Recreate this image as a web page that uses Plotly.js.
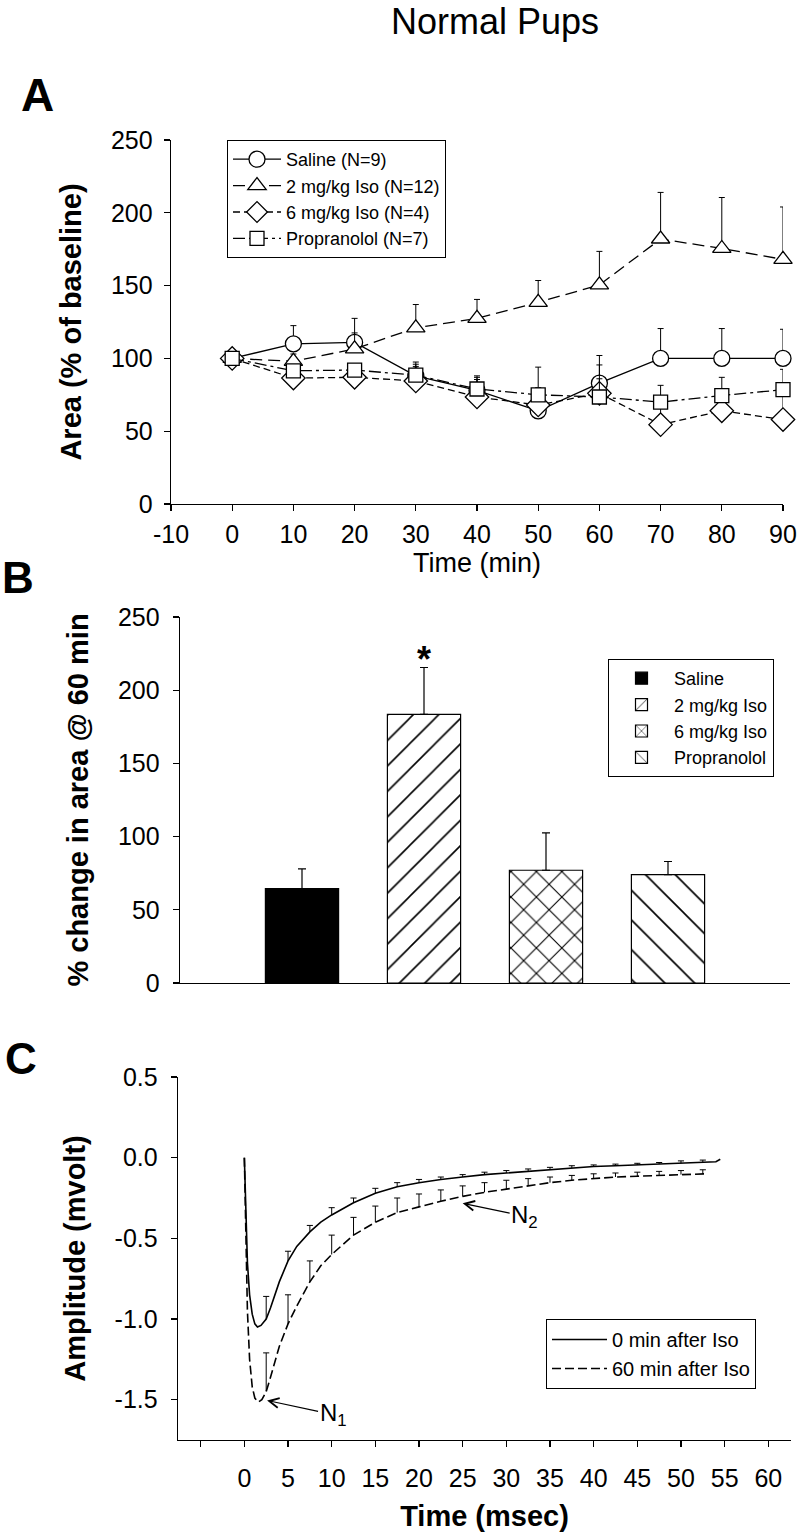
<!DOCTYPE html>
<html><head><meta charset="utf-8">
<script src="https://cdn.plot.ly/plotly-3.0.1.min.js"></script>
<style>html,body{margin:0;padding:0;background:#fff}#chart{width:800px;height:1532px}</style>
</head><body><div id="chart"></div>
<script>
// ---------- Panel A data ----------
const timeMin = [0, 10, 20, 30, 40, 50, 60, 70, 80, 90];
const salineA = [100, 110, 111, 88, 78, 64, 83, 100, 100, 100];
const salineAErr = [0, 12.5, 16.5, 8, 9, 30, 19, 20.5, 20.5, 20];
const iso2A = [100, 98, 106.5, 121, 127.5, 138.5, 150.5, 182, 175.5, 168];
const iso2AErr = [0, 5, 11, 16, 13, 15, 23, 32, 35, 36];
const iso6A = [100, 86.5, 87, 84.5, 73.5, 68, 76, 54.5, 64, 58];
const iso6AErr = [0, 3, 5, 10, 12, 10, 10, 15, 10, 20];
const propA = [100, 91.5, 92, 88.5, 79, 75, 73.5, 70, 74.5, 78.5];
const propAErr = [0, 3, 4, 9, 9, 5, 22, 11.5, 12.5, 14];
const namesA = ['Saline (N=9)', '2 mg/kg Iso (N=12)', '6 mg/kg Iso (N=4)', 'Propranolol (N=7)'];
const xTickValsA = [-10, 0, 10, 20, 30, 40, 50, 60, 70, 80, 90];
const xTickTextA = ['-10', '0', '10', '20', '30', '40', '50', '60', '70', '80', '90'];

// ---------- Panel B data ----------
const groupsB = ['Saline', '2 mg/kg Iso', '6 mg/kg Iso', 'Propranolol'];
const meanB = [64.5, 183.5, 77, 74];
const errB = [13.5, 32, 25.5, 9];

// ---------- Panel C data ----------
const tC = [0, 0.15, 0.35, 0.6, 0.9, 1.2, 1.5, 1.9, 2.5, 3, 3.5, 4, 5, 6, 7.5, 8.75, 10, 12.5, 15, 17.5,
            20, 22.5, 25, 27.5, 30, 32.5, 35, 37.5, 40, 42.5, 45, 47.5, 50, 52.5, 54, 54.5];
const amp0 = [0, -0.35, -0.65, -0.85, -0.97, -1.03, -1.05, -1.04, -1.0, -0.93, -0.85, -0.77, -0.64, -0.55, -0.46, -0.40,
              -0.355, -0.28, -0.22, -0.18, -0.155, -0.135, -0.12, -0.105, -0.095, -0.085, -0.075, -0.065, -0.055,
              -0.05, -0.045, -0.04, -0.035, -0.03, -0.025, -0.01];
const tC60 = [0, 0.15, 0.35, 0.6, 0.9, 1.2, 1.6, 2.0, 2.5, 3, 3.5, 4, 5, 6, 7.5, 8.75, 10, 12.5, 15, 17.5,
              20, 22.5, 25, 27.5, 30, 32.5, 35, 37.5, 40, 42.5, 45, 47.5, 50, 52.5, 53];
const amp60 = [0, -0.45, -0.95, -1.25, -1.42, -1.49, -1.515, -1.50, -1.45, -1.36, -1.26, -1.17, -1.03, -0.92, -0.77, -0.67,
               -0.60, -0.48, -0.40, -0.34, -0.305, -0.27, -0.24, -0.215, -0.195, -0.175, -0.155, -0.14, -0.13,
               -0.12, -0.115, -0.11, -0.105, -0.10, -0.10];
const errT = [2.5, 5, 7.5, 10, 12.5, 15, 17.5, 20, 22.5, 25, 27.5, 30, 32.5, 35, 37.5, 40, 42.5, 45, 47.5, 50, 52.5];
const errTop0 = [-0.86, -0.58, -0.42, -0.31, -0.25, -0.19, -0.155, -0.135, -0.12, -0.105, -0.09, -0.08, -0.07,
                 -0.06, -0.05, -0.045, -0.04, -0.035, -0.03, -0.02, -0.015];
const errTop60 = [-1.21, -0.85, -0.64, -0.48, -0.37, -0.30, -0.25, -0.225, -0.20, -0.175, -0.155, -0.14, -0.13,
                  -0.12, -0.11, -0.10, -0.095, -0.09, -0.085, -0.08, -0.075];
const namesC = ['0 min after Iso', '60 min after Iso'];
const xTickValsC = [0, 5, 10, 15, 20, 25, 30, 35, 40, 45, 50, 55, 60];
const xTickTextC = ['0', '5', '10', '15', '20', '25', '30', '35', '40', '45', '50', '55', '60'];
const yTickValsC = [0.5, 0, -0.5, -1.0, -1.5];
const yTickTextC = ['0.5', '0.0', '-0.5', '-1.0', '-1.5'];

// ---------- build ----------
const FONT = 'Liberation Sans, Arial, Helvetica, sans-serif';
const traces = [];

function aTrace(y, err, name, symbol, size, dash) {
  return {
    type: 'scatter', mode: 'lines+markers', x: timeMin, y: y, name: name, cliponaxis: false,
    xaxis: 'x', yaxis: 'y', legend: 'legend',
    line: {color: 'black', width: 1.3, dash: dash},
    marker: {symbol: symbol, size: size, color: 'white', line: {color: 'black', width: 1.3}},
    error_y: {type: 'data', symmetric: false, array: err, arrayminus: err.map(() => 0),
              color: 'black', thickness: 1, width: 3}
  };
}
traces.push(aTrace(salineA, salineAErr, namesA[0], 'circle', 16, 'solid'));
traces.push(aTrace(iso2A, iso2AErr, namesA[1], 'triangle-up', 16, '12px,6px'));
traces.push(aTrace(iso6A, iso6AErr, namesA[2], 'diamond', 18, '7px,4px'));
traces.push(aTrace(propA, propAErr, namesA[3], 'square', 14, '12px,4px,3px,4px'));

const patternsB = [
  null,
  {shape: '/', fgcolor: 'black', bgcolor: 'white', size: 18, solidity: 0.09},
  {shape: 'x', fgcolor: 'black', bgcolor: 'white', size: 18, solidity: 0.12},
  {shape: '\\', fgcolor: 'black', bgcolor: 'white', size: 21, solidity: 0.08}
];
groupsB.forEach((g, i) => {
  const m = {color: i === 0 ? 'black' : 'white', line: {color: 'black', width: 1.2}};
  if (patternsB[i]) m.pattern = patternsB[i];
  traces.push({
    type: 'bar', x: [g], y: [meanB[i]], name: g, width: 0.6,
    xaxis: 'x2', yaxis: 'y2', legend: 'legend2', marker: m,
    error_y: {type: 'data', symmetric: false, array: [errB[i]], arrayminus: [0],
              color: 'black', thickness: 1.2, width: 4}
  });
});

function errSegments(tCurve, aCurve, tops) {
  const xs = [], ys = [];
  const hw = 0.35;
  errT.forEach((t, i) => {
    const base = aCurve[tCurve.indexOf(t)];
    xs.push(t, t, null, t - hw, t + hw, null);
    ys.push(base, tops[i], null, tops[i], tops[i], null);
  });
  return {xs, ys};
}
const e0 = errSegments(tC, amp0, errTop0);
const e60 = errSegments(tC60, amp60, errTop60);
traces.push({type: 'scatter', mode: 'lines', x: e0.xs, y: e0.ys, xaxis: 'x3', yaxis: 'y3',
  showlegend: false, hoverinfo: 'skip', line: {color: 'black', width: 1}});
traces.push({type: 'scatter', mode: 'lines', x: e60.xs, y: e60.ys, xaxis: 'x3', yaxis: 'y3',
  showlegend: false, hoverinfo: 'skip', line: {color: 'black', width: 1}});
traces.push({type: 'scatter', mode: 'lines', x: tC, y: amp0, name: namesC[0], xaxis: 'x3', yaxis: 'y3',
  legend: 'legend3', line: {color: 'black', width: 1.6, dash: 'solid'}});
traces.push({type: 'scatter', mode: 'lines', x: tC60, y: amp60, name: namesC[1], xaxis: 'x3', yaxis: 'y3',
  legend: 'legend3', line: {color: 'black', width: 1.6, dash: '9px,4px'}});

const W = 800, H = 1532;
const px = v => v / W, py = v => 1 - v / H;

const axBase = {
  showline: true, linecolor: 'black', linewidth: 1.3, ticks: 'outside', ticklen: 6, tickwidth: 1.2,
  tickcolor: 'black', showgrid: false, zeroline: false, tickfont: {size: 25, color: 'black', family: FONT},
  fixedrange: true
};
function ax(extra) { return Object.assign({}, axBase, extra); }
const boldTitle = (t, so) => ({text: t, font: {size: 29, weight: 'bold', color: 'black', family: FONT}, standoff: so});
const panelLabel = (t, x, y, s) => ({text: t, xref: 'paper', yref: 'paper', x: px(x), y: py(y),
  xanchor: 'center', yanchor: 'middle', showarrow: false,
  font: {size: s, weight: 'bold', color: 'black', family: FONT}});

const layout = {
  width: W, height: H, margin: {l: 0, r: 0, t: 0, b: 0},
  paper_bgcolor: 'white', plot_bgcolor: 'white',
  font: {family: FONT, color: 'black'},
  barmode: 'overlay',
  title: {text: 'Normal Pups', font: {size: 36, color: 'black', family: FONT},
          x: 495 / W, xanchor: 'center', y: 1 - 21 / H, yanchor: 'middle', xref: 'paper', yref: 'container'},
  xaxis: ax({domain: [px(171), px(783)], range: [-10, 90], tickmode: 'array', tickvals: xTickValsA,
             ticktext: xTickTextA, anchor: 'y', ticklabelstandoff: 2,
             title: {text: 'Time (min)', font: {size: 27, color: 'black', family: FONT}, standoff: 2}}),
  yaxis: ax({domain: [py(504), py(140)], range: [0, 250], tickmode: 'linear', tick0: 0, dtick: 50, anchor: 'x',
             ticklabelstandoff: 6, title: boldTitle('Area (% of baseline)', 20)}),
  xaxis2: ax({domain: [px(180), px(790)], type: 'category', categoryorder: 'array', categoryarray: groupsB,
              range: [-1, 4], ticks: '', showticklabels: false, anchor: 'y2'}),
  yaxis2: ax({domain: [py(983), py(617)], range: [0, 250], tickmode: 'linear', tick0: 0, dtick: 50, anchor: 'x2',
              ticklabelstandoff: 8, title: boldTitle('% change in area @ 60 min', 20)}),
  xaxis3: ax({domain: [px(178), px(791)], range: [-7.6, 62.6], tickmode: 'array', tickvals: xTickValsC,
              ticktext: xTickTextC, anchor: 'y3', ticklabelstandoff: 10, title: boldTitle('Time (msec)', 20),
              minor: {ticks: 'outside', tick0: 0, dtick: 5, ticklen: 6, tickwidth: 1.2, tickcolor: 'black', showgrid: false}}),
  yaxis3: ax({domain: [py(1440), py(1077)], range: [-1.75, 0.5], tickmode: 'array', tickvals: yTickValsC,
              ticktext: yTickTextC, anchor: 'x3', ticklabelstandoff: 8, title: boldTitle('Amplitude (mvolt)', 20)}),
  legend: {x: px(227), y: py(140), xanchor: 'left', yanchor: 'top', bgcolor: 'white', bordercolor: 'black',
           borderwidth: 1, font: {size: 18, color: 'black', family: FONT}, tracegroupgap: 0, itemwidth: 48},
  legend2: {x: px(608), y: py(659), xanchor: 'left', yanchor: 'top', bgcolor: 'white', bordercolor: 'black',
            borderwidth: 1, font: {size: 18, color: 'black', family: FONT}, tracegroupgap: 0, itemwidth: 55},
  legend3: {x: px(546), y: py(1319), xanchor: 'left', yanchor: 'top', bgcolor: 'white', bordercolor: 'black',
            borderwidth: 1, font: {size: 20, color: 'black', family: FONT}, tracegroupgap: 0, itemwidth: 55},
  annotations: [
    panelLabel('A', 37, 95, 46),
    panelLabel('B', 18, 577, 44),
    panelLabel('C', 21, 1058, 44),
    {text: '*', xref: 'x2', yref: 'y2', x: groupsB[1], y: 221, showarrow: false,
     font: {size: 36, weight: 'bold', color: 'black', family: FONT}},
    {text: 'N<sub>1</sub>', xref: 'x3', yref: 'y3', x: 2.6, y: -1.505, ax: 66, ay: 14, showarrow: true,
     arrowhead: 5, arrowsize: 1.6, arrowwidth: 1.2, arrowcolor: 'black',
     font: {size: 24, color: 'black', family: FONT}},
    {text: 'N<sub>2</sub>', xref: 'x3', yref: 'y3', x: 25, y: -0.283, ax: 62, ay: 13, showarrow: true,
     arrowhead: 5, arrowsize: 1.6, arrowwidth: 1.2, arrowcolor: 'black',
     font: {size: 24, color: 'black', family: FONT}}
  ]
};

Plotly.newPlot('chart', traces, layout, {displayModeBar: false, staticPlot: true});
</script></body></html>
